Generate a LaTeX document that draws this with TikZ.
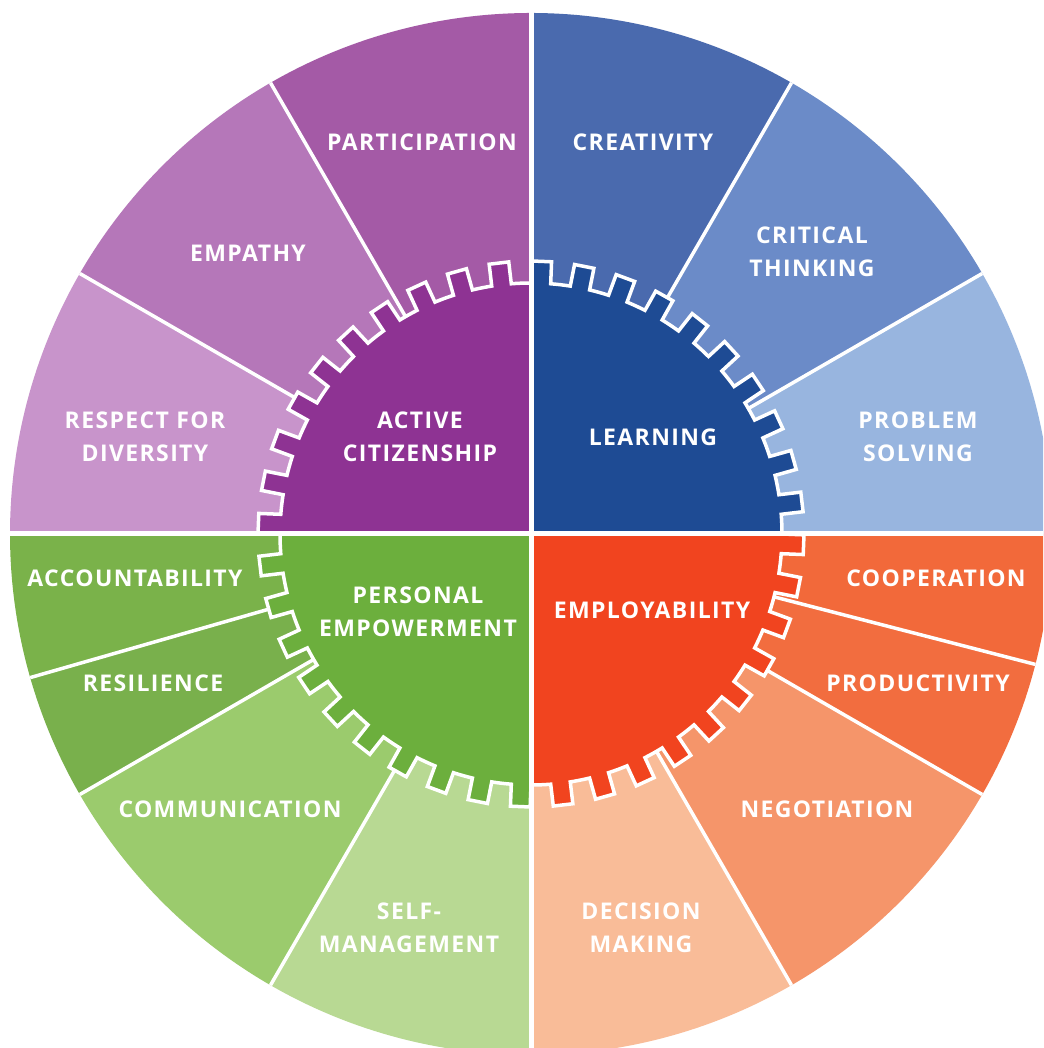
\documentclass[tikz,border=0pt]{standalone}
\usepackage{fontspec}
\setmainfont{Open Sans}
\newfontfamily\lblfont[LetterSpace=6]{Open Sans}
\usetikzlibrary{calc}
\definecolor{partC}{HTML}{A45AA6}
\definecolor{empaC}{HTML}{B577B9}
\definecolor{respC}{HTML}{C894CB}
\definecolor{citC}{HTML}{8E3393}
\definecolor{creatC}{HTML}{4A6AAE}
\definecolor{critC}{HTML}{6B8BC8}
\definecolor{probC}{HTML}{98B5DF}
\definecolor{learnC}{HTML}{1E4B94}
\definecolor{accC}{HTML}{7AB24A}
\definecolor{resC}{HTML}{79B04C}
\definecolor{commC}{HTML}{9BCB6D}
\definecolor{selfC}{HTML}{B8D993}
\definecolor{persC}{HTML}{6CAF3D}
\definecolor{coopC}{HTML}{F2693A}
\definecolor{prodC}{HTML}{F26D3F}
\definecolor{negC}{HTML}{F5956A}
\definecolor{decC}{HTML}{F9BC98}
\definecolor{emplC}{HTML}{F1441F}
\def\gR{251}
\def\gH{22}
\tikzset{
  lbl/.style={text=white, font=\lblfont\fontsize{23}{33}\selectfont\bfseries, align=center, inner sep=0pt},
  segline/.style={draw=white, line width=3.5pt},
  gearline/.style={draw=white, line width=3.5pt, line join=miter},
  quadline/.style={draw=white, line width=5pt}
}
\begin{document}
\begin{tikzpicture}[x=1pt,y=1pt]
\useasboundingbox (0,0) rectangle (1043,1048);
\fill[white] (0,0) rectangle (1043,1048);
\begin{scope}
\clip (0,0) rectangle (1043,1048);
\begin{scope}[shift={(531,514)}]
  % outer sectors
  \foreach \a/\b/\c in {0/30/probC, 30/60/critC, 60/90/creatC,
                        90/120/partC, 120/150/empaC, 150/180/respC,
                        180/196/accC, 196/210/resC, 210/240/commC, 240/270/selfC,
                        270/300/decC, 300/330/negC, 330/345.5/prodC, 345.5/360/coopC}
    \fill[\c] (0,0) -- (\a:521) arc[start angle=\a, end angle=\b, radius=521] -- cycle;
  % segment dividers
  \foreach \a in {30,60,120,150,196,210,240,300,330,345.5}
    \draw[segline] (0,0) -- (\a:521);
  % gear quarters
  \foreach \q/\c in {0/learnC, 1/citC, 2/persC, 3/emplC}{
    \begin{scope}
      \clip (0,0) -- (\q*90:700) -- (\q*90+45:900) -- (\q*90+90:700) -- cycle;
      \filldraw[fill=\c, gearline] (0:\gR)
        \foreach \k in {0,...,39}{
          arc[start angle={9*\k}, end angle={9*\k+4.5}, radius=\gR]
          -- ($(9*\k+4.5:\gR)+(9*\k+6.75:\gH)$)
          -- ($(9*\k+9:\gR)+(9*\k+6.75:\gH)$)
          -- (9*\k+9:\gR)
        } -- cycle;
    \end{scope}
  }
\end{scope}
% quadrant dividers
\draw[quadline] (531,0) -- (531,1048);
\draw[quadline] (0,514) -- (1043,514);
\end{scope}
% labels
\node[lbl] (participation) at (422,906) {PARTICIPATION};
\node[lbl] (empathy) at (248,795) {EMPATHY};
\node[lbl] (respect) at (145,611) {RESPECT FOR\\DIVERSITY};
\node[lbl] (active) at (420,611) {ACTIVE\\CITIZENSHIP};
\node[lbl] (creativity) at (643,906) {CREATIVITY};
\node[lbl] (critical) at (812,796) {CRITICAL\\THINKING};
\node[lbl] (problem) at (918,611) {PROBLEM\\SOLVING};
\node[lbl] (learning) at (653,611) {LEARNING};
\node[lbl] (accountability) at (135,470) {ACCOUNTABILITY};
\node[lbl] (resilience) at (153,365) {RESILIENCE};
\node[lbl] (communication) at (230,239) {COMMUNICATION};
\node[lbl] (selfman) at (409,120.5) {SELF-\\MANAGEMENT};
\node[lbl] (personal) at (418,436) {PERSONAL\\EMPOWERMENT};
\node[lbl] (employability) at (652,438) {EMPLOYABILITY};
\node[lbl] (cooperation) at (936,470) {COOPERATION};
\node[lbl] (productivity) at (918,365) {PRODUCTIVITY};
\node[lbl] (negotiation) at (827,239) {NEGOTIATION};
\node[lbl] (decision) at (641,120.5) {DECISION\\MAKING};
\end{tikzpicture}
\end{document}
